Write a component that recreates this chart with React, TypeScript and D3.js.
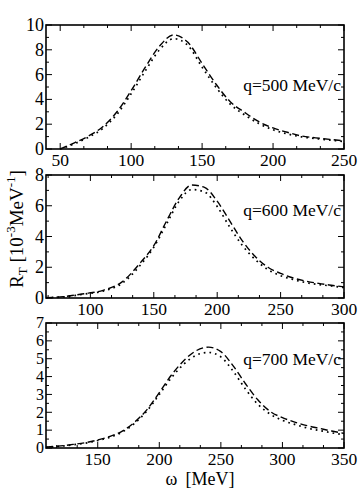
import React from "react";
import * as d3 from "d3";

// omega grids and R_T values (10^-3 MeV^-1)
const omega500 = [50, 60, 70, 80, 90, 100, 110, 120, 130, 140, 150, 160, 170, 180, 190, 200, 210, 220, 230, 240, 250];
const dash500 = [0, 0.5, 1.05, 1.8, 3.0, 4.7, 6.6, 8.3, 9.2, 8.6, 6.9, 5.2, 3.8, 2.95, 2.2, 1.7, 1.35, 1.05, 0.9, 0.78, 0.65];
const dot500 = [0, 0.42, 0.95, 1.65, 2.8, 4.45, 6.3, 8.0, 8.9, 8.35, 6.6, 4.95, 3.6, 2.75, 2.05, 1.55, 1.22, 0.98, 0.84, 0.72, 0.6];

const omega600 = [65, 80, 95, 110, 125, 140, 150, 160, 170, 180, 190, 200, 210, 220, 230, 240, 250, 260, 270, 280, 290, 300];
const dash600 = [0.02, 0.1, 0.28, 0.5, 1.05, 2.35, 3.4, 5.0, 6.5, 7.35, 7.2, 6.3, 5.0, 3.7, 2.7, 2.0, 1.6, 1.3, 1.1, 0.95, 0.83, 0.72];
const dot600 = [0.02, 0.08, 0.25, 0.45, 0.95, 2.2, 3.3, 4.8, 6.3, 7.05, 6.9, 5.95, 4.6, 3.4, 2.5, 1.85, 1.45, 1.2, 1.0, 0.88, 0.78, 0.68];

const omega700 = [108, 120, 130, 140, 150, 160, 170, 180, 190, 200, 210, 220, 230, 240, 250, 260, 270, 280, 290, 300, 310, 320, 330, 340, 350];
const dash700 = [0.05, 0.12, 0.2, 0.3, 0.45, 0.65, 0.95, 1.45, 2.15, 3.1, 4.1, 4.9, 5.45, 5.65, 5.4, 4.6, 3.6, 2.7, 2.05, 1.7, 1.45, 1.25, 1.1, 0.95, 0.82];
const dot700 = [0.04, 0.1, 0.18, 0.27, 0.42, 0.6, 0.9, 1.38, 2.08, 3.0, 3.95, 4.7, 5.2, 5.35, 5.1, 4.3, 3.3, 2.45, 1.9, 1.55, 1.32, 1.12, 0.98, 0.85, 0.74];

const labels = ["q=500 MeV/c", "q=600 MeV/c", "q=700 MeV/c"];

const left = 46, right = 344;
const font = "'Liberation Serif', 'DejaVu Serif', serif";

const panels = [
  { top: 25, bottom: 149, xd: [40, 250], xMaj: [50, 100, 150, 200, 250], yMax: 10, yStep: 2, yMinor: 1, yFont: 18,
    omega: omega500, dash: dash500, dot: dot500, label: labels[0], labelY: 91 },
  { top: 175, bottom: 298, xd: [65, 300], xMaj: [100, 150, 200, 250, 300], yMax: 8, yStep: 2, yMinor: 1, yFont: 18,
    omega: omega600, dash: dash600, dot: dot600, label: labels[1], labelY: 216 },
  { top: 323, bottom: 448, xd: [108, 350], xMaj: [150, 200, 250, 300, 350], yMax: 7, yStep: 1, yMinor: 0.5, yFont: 16,
    omega: omega700, dash: dash700, dot: dot700, label: labels[2], labelY: 365 },
];

function Panel({ p }: { p: any }) {
  const x = d3.scaleLinear().domain(p.xd).range([left, right]);
  const y = d3.scaleLinear().domain([0, p.yMax]).range([p.bottom, p.top]);
  const line = (vals: number[]) =>
    d3.line<number>()
      .x((_, i) => x(p.omega[i]))
      .y((d) => y(d))
      .curve(d3.curveMonotoneX)(vals) || "";

  const step = 50 / 3;
  const xMinor: number[] = [];
  for (let v = p.xMaj[0] - step; v > p.xd[0]; v -= step) xMinor.push(v);
  for (let v = p.xMaj[0] + step; v < p.xd[1]; v += step) {
    if (Math.abs((v - p.xMaj[0]) % 50) > 1 && Math.abs((v - p.xMaj[0]) % 50) < 49) xMinor.push(v);
  }
  const yMaj = d3.range(0, p.yMax + 0.001, p.yStep);
  const yMin = d3.range(0, p.yMax + 0.001, p.yMinor).filter((v) => Math.abs(v / p.yStep - Math.round(v / p.yStep)) > 0.01);

  return (
    <g>
      <path d={line(p.dash)} fill="none" stroke="#000" strokeWidth={1.4} strokeDasharray="7,3.5" />
      <path d={line(p.dot)} fill="none" stroke="#000" strokeWidth={1.7} strokeDasharray="1.7,4" />
      {p.xMaj.map((v: number) => (
        <g key={"xm" + v}>
          <line x1={x(v)} x2={x(v)} y1={p.bottom} y2={p.bottom - 6} stroke="#000" />
          <line x1={x(v)} x2={x(v)} y1={p.top} y2={p.top + 6} stroke="#000" />
          <text x={x(v)} y={p.bottom + 17} textAnchor="middle" fontSize={17.5} fontFamily={font}>{v}</text>
        </g>
      ))}
      {xMinor.map((v) => (
        <g key={"xn" + v}>
          <line x1={x(v)} x2={x(v)} y1={p.bottom} y2={p.bottom - 3} stroke="#000" />
          <line x1={x(v)} x2={x(v)} y1={p.top} y2={p.top + 3} stroke="#000" />
        </g>
      ))}
      {yMaj.map((v) => (
        <g key={"ym" + v}>
          <line x1={left} x2={left + 6} y1={y(v)} y2={y(v)} stroke="#000" />
          <line x1={right} x2={right - 6} y1={y(v)} y2={y(v)} stroke="#000" />
          <text x={44} y={y(v) + p.yFont / 3} textAnchor="end" fontSize={p.yFont} fontFamily={font}>{v}</text>
        </g>
      ))}
      {yMin.map((v) => (
        <g key={"yn" + v}>
          <line x1={left} x2={left + 3} y1={y(v)} y2={y(v)} stroke="#000" />
          <line x1={right} x2={right - 3} y1={y(v)} y2={y(v)} stroke="#000" />
        </g>
      ))}
      <rect x={left} y={p.top} width={right - left} height={p.bottom - p.top} fill="none" stroke="#000" strokeWidth={1.6} />
      <text x={341} y={p.labelY} textAnchor="end" fontSize={17.5} fontFamily={font}>{p.label}</text>
    </g>
  );
}

export default function App() {
  return (
    <svg width={360} height={488} style={{ position: "absolute", left: 0, top: 0, background: "#fff" }}>
      {panels.map((p, i) => <Panel key={i} p={p} />)}
      <text transform="translate(23,229) rotate(-90)" textAnchor="middle" fontSize={19} fontFamily={font}>
        R<tspan dy={4} fontSize={13}>T</tspan>
        <tspan dy={-4}> [10</tspan>
        <tspan dy={-8} fontSize={13}>-3</tspan>
        <tspan dy={8}>MeV</tspan>
        <tspan dy={-8} fontSize={13}>-1</tspan>
        <tspan dy={8}>]</tspan>
      </text>
      <text x={200} y={485} textAnchor="middle" fontSize={18} fontFamily={font}>
        ω<tspan dx={8}>[MeV]</tspan>
      </text>
    </svg>
  );
}
